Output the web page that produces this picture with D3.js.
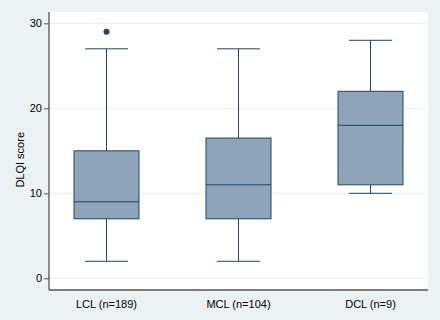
<!DOCTYPE html>
<html><head><meta charset="utf-8">
<script src="https://cdn.jsdelivr.net/npm/d3@7"></script>
<style>html,body{margin:0;padding:0;background:#eaf2f3;}svg{display:block;font-family:"Liberation Sans",Arial,sans-serif;}</style>
</head><body>
<svg id="c" width="440" height="320"></svg>
<script>
const categories = ["LCL (n=189)", "MCL (n=104)", "DCL (n=9)"];
const whiskerLow = [2, 2, 10];
const q1 = [7, 7, 11];
const median = [9, 11, 18];
const q3 = [15, 16.5, 22];
const whiskerHigh = [27, 27, 28];
const outliers = [[29], [], []];
const yTicks = [0, 10, 20, 30];
const yLabel = "DLQI score";

const svg = d3.select("#c");
const W = 440, H = 320;
svg.append("rect").attr("width", W).attr("height", H).attr("fill", "#eaf2f3");
const plot = {l: 49, r: 428, t: 12, b: 290};
svg.append("rect").attr("x", plot.l).attr("y", plot.t).attr("width", plot.r - plot.l).attr("height", plot.b - plot.t).attr("fill", "#ffffff");

const y = d3.scaleLinear().domain([0, 30]).range([278.3, 23.3]);
const x = d3.scaleBand().domain(categories).range([40.5, 436.5]).paddingInner(0.5).paddingOuter(0.25);
// center positions
const cx = c => x(c) + x.bandwidth() / 2;

// grid
svg.append("g").selectAll("line").data(yTicks).join("line")
  .attr("x1", plot.l).attr("x2", plot.r)
  .attr("y1", d => y(d)).attr("y2", d => y(d))
  .attr("stroke", "#eaf2f3").attr("stroke-width", 1.2);

const stroke = "#1a476f", fill = "#8fa4b9";
const boxW = 65, capW = 43;
const data = categories.map((c, i) => ({c, lo: whiskerLow[i], q1: q1[i], med: median[i], q3: q3[i], hi: whiskerHigh[i], out: outliers[i]}));
const g = svg.append("g").selectAll("g").data(data).join("g");
g.append("line").attr("x1", d => cx(d.c)).attr("x2", d => cx(d.c)).attr("y1", d => y(d.q3)).attr("y2", d => y(d.hi)).attr("stroke", stroke).attr("stroke-width", 1);
g.append("line").attr("x1", d => cx(d.c)).attr("x2", d => cx(d.c)).attr("y1", d => y(d.q1)).attr("y2", d => y(d.lo)).attr("stroke", stroke).attr("stroke-width", 1);
g.append("line").attr("x1", d => cx(d.c) - capW / 2).attr("x2", d => cx(d.c) + capW / 2).attr("y1", d => y(d.hi)).attr("y2", d => y(d.hi)).attr("stroke", stroke).attr("stroke-width", 1);
g.append("line").attr("x1", d => cx(d.c) - capW / 2).attr("x2", d => cx(d.c) + capW / 2).attr("y1", d => y(d.lo)).attr("y2", d => y(d.lo)).attr("stroke", stroke).attr("stroke-width", 1);
g.append("rect").attr("x", d => cx(d.c) - boxW / 2).attr("width", boxW)
  .attr("y", d => y(d.q3)).attr("height", d => y(d.q1) - y(d.q3))
  .attr("fill", fill).attr("stroke", stroke).attr("stroke-width", 1);
g.append("line").attr("x1", d => cx(d.c) - boxW / 2).attr("x2", d => cx(d.c) + boxW / 2).attr("y1", d => y(d.med)).attr("y2", d => y(d.med)).attr("stroke", stroke).attr("stroke-width", 1);
g.selectAll("circle").data(d => d.out.map(v => ({c: d.c, v}))).join("circle")
  .attr("cx", d => cx(d.c)).attr("cy", d => y(d.v)).attr("r", 3).attr("fill", stroke);

// y axis
const ya = svg.append("g").attr("transform", `translate(${plot.l},0)`)
  .call(d3.axisLeft(y).tickValues(yTicks).tickSize(5).tickPadding(2));
ya.select(".domain").attr("d", `M0,${plot.t}V${plot.b}`).attr("stroke", "#555").attr("stroke-width", 1.3);
ya.selectAll(".tick line").attr("stroke", "#555");
ya.selectAll(".tick text").attr("font-size", 11).attr("fill", "#000").attr("font-family", "Liberation Sans, Arial, sans-serif");

// x axis
const xa = svg.append("g").attr("transform", `translate(0,${plot.b})`)
  .call(d3.axisBottom(x).tickSize(0).tickPadding(10));
xa.select(".domain").attr("d", `M${plot.l},0H${plot.r}`).attr("stroke", "#555").attr("stroke-width", 1.3);
xa.selectAll(".tick text").attr("font-size", 11).attr("fill", "#000").attr("font-family", "Liberation Sans, Arial, sans-serif");

svg.append("text").attr("transform", `translate(24,${(y(0) + y(30)) / 2 + 9}) rotate(-90)`)
  .attr("text-anchor", "middle").attr("font-size", 11).attr("fill", "#000").text(yLabel);
</script>
</body></html>
